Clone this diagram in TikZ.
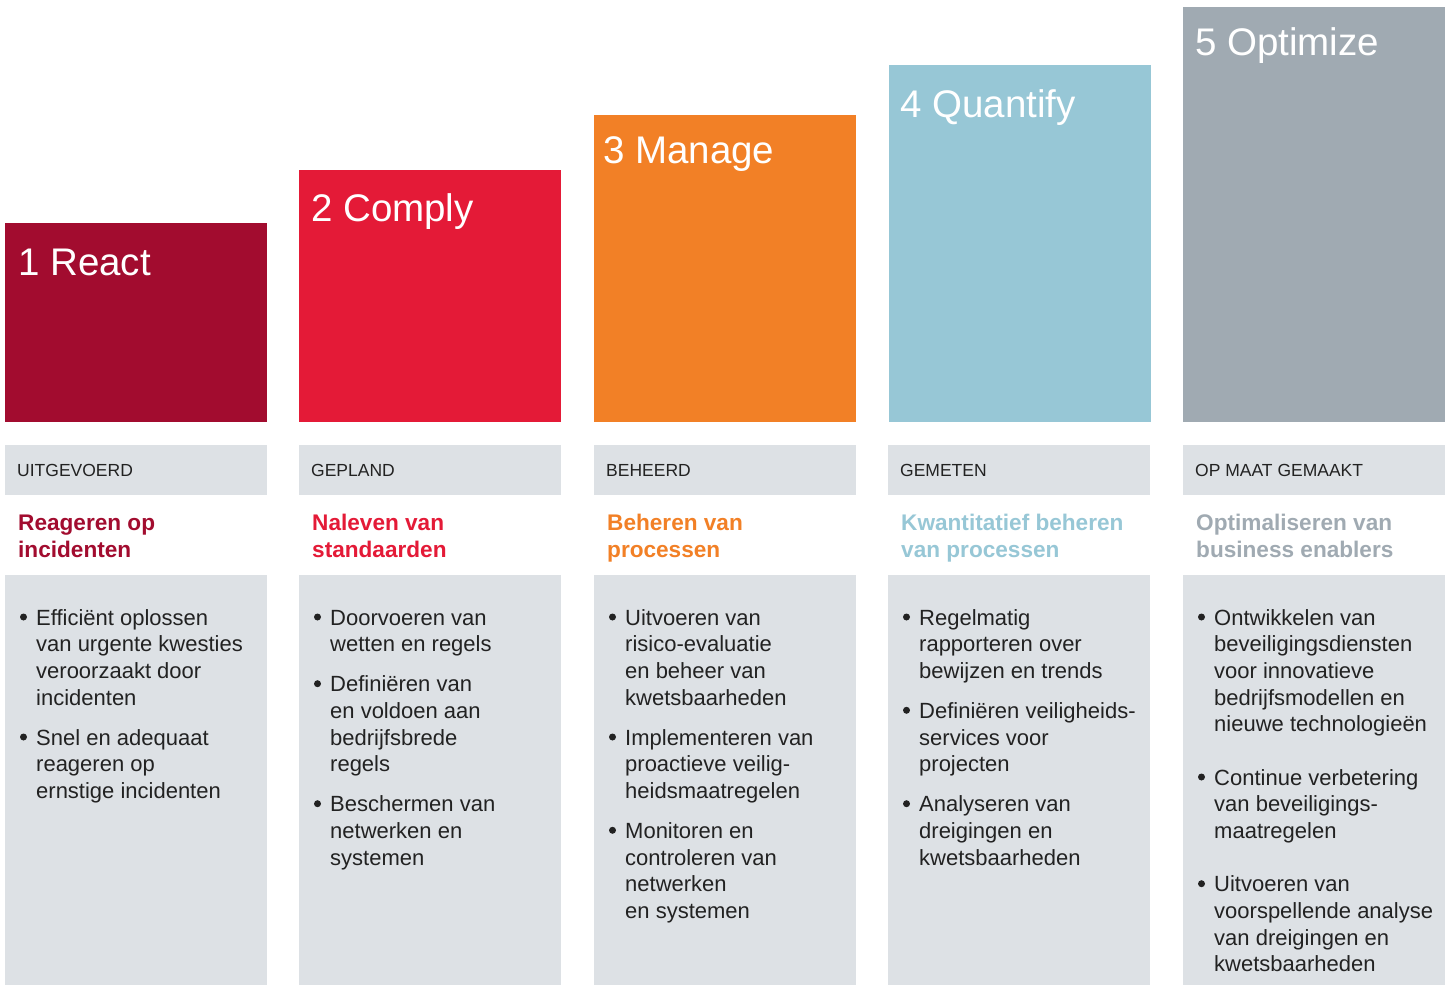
\documentclass[tikz,border=0pt]{standalone}
\usepackage{fontspec}
\setmainfont{Liberation Sans}
\definecolor{cReact}{HTML}{A20C2F}
\definecolor{cComply}{HTML}{E41A37}
\definecolor{cManage}{HTML}{F28026}
\definecolor{cQuant}{HTML}{97C7D6}
\definecolor{cOpt}{HTML}{A0AAB2}
\definecolor{cGrey}{HTML}{DDE1E5}
\definecolor{cText}{HTML}{222222}
\newcommand\bodyln[4]{\node[body] (#1) at (#2,#3) {#4};}
\newcommand\bulletat[3]{\node[bul] (#1) at ({#2+6.5},{#3-8}) {};}
\begin{document}
\begin{tikzpicture}[x=1pt,y=-1pt,
  title/.style={anchor=base west, inner sep=0pt, text=white, font=\fontsize{38.5}{44}\selectfont},
  lab/.style={anchor=base west, inner sep=0pt, text=cText, font=\fontsize{17.5}{20}\selectfont},
  head/.style={anchor=base west, inner sep=0pt, font=\fontsize{22.6}{27}\selectfont\bfseries},
  body/.style={anchor=base west, inner sep=0pt, text=cText, font=\fontsize{22}{26.7}\selectfont},
  bul/.style={circle, fill=cText, inner sep=0pt, minimum size=7pt}]
\useasboundingbox (0,0) rectangle (1452,985);
\fill[white] (0,0) rectangle (1452,985);

% coloured blocks
\fill[cReact] (5,223) rectangle (267,422);
\fill[cComply] (299,170) rectangle (561,422);
\fill[cManage] (594,115) rectangle (856,422);
\fill[cQuant] (889,65) rectangle (1151,422);
\fill[cOpt] (1183,7) rectangle (1445,422);

\node[title] (t1) at (18,275) {1 React};
\node[title] (t2) at (311,221) {2 Comply};
\node[title] (t3) at (603,163) {3 Manage};
\node[title] (t4) at (900,117) {4 Quantify};
\node[title] (t5) at (1195,55) {5 Optimize};

% grey label bars and body panels
\foreach \x in {5,299,594,888,1183}{
  \fill[cGrey] (\x,445) rectangle ++(262,50);
  \fill[cGrey] (\x,575) rectangle ++(262,410);
}

\node[lab] (l1) at (17,476) {UITGEVOERD};
\node[lab] (l2) at (311,476) {GEPLAND};
\node[lab] (l3) at (606,476) {BEHEERD};
\node[lab] (l4) at (900,476) {GEMETEN};
\node[lab] (l5) at (1195,476) {OP MAAT GEMAAKT};

\node[head,text=cReact] (h1a) at (18,530) {Reageren op};
\node[head,text=cReact] (h1b) at (18,557) {incidenten};
\node[head,text=cComply] (h2a) at (312,530) {Naleven van};
\node[head,text=cComply] (h2b) at (312,557) {standaarden};
\node[head,text=cManage] (h3a) at (607,530) {Beheren van};
\node[head,text=cManage] (h3b) at (607,557) {processen};
\node[head,text=cQuant] (h4a) at (901,530) {Kwantitatief beheren};
\node[head,text=cQuant] (h4b) at (901,557) {van processen};
\node[head,text=cOpt] (h5a) at (1196,530) {Optimaliseren van};
\node[head,text=cOpt] (h5b) at (1196,557) {business enablers};

% column 1
\bulletat{b11}{17}{625}
\bodyln{c1a}{36}{625}{Efficiënt oplossen}
\bodyln{c1b}{36}{651.7}{van urgente kwesties}
\bodyln{c1c}{36}{678.3}{veroorzaakt door}
\bodyln{c1d}{36}{705}{incidenten}
\bulletat{b12}{17}{745}
\bodyln{c1e}{36}{745}{Snel en adequaat}
\bodyln{c1f}{36}{771.7}{reageren op}
\bodyln{c1g}{36}{798.3}{ernstige incidenten}

% column 2
\bulletat{b21}{311}{625}
\bodyln{c2a}{330}{625}{Doorvoeren van}
\bodyln{c2b}{330}{651.7}{wetten en regels}
\bulletat{b22}{311}{691.7}
\bodyln{c2c}{330}{691.7}{Definiëren van}
\bodyln{c2d}{330}{718.3}{en voldoen aan}
\bodyln{c2e}{330}{745}{bedrijfsbrede}
\bodyln{c2f}{330}{771.7}{regels}
\bulletat{b23}{311}{811.7}
\bodyln{c2g}{330}{811.7}{Beschermen van}
\bodyln{c2h}{330}{838.3}{netwerken en}
\bodyln{c2i}{330}{865}{systemen}

% column 3
\bulletat{b31}{606}{625}
\bodyln{c3a}{625}{625}{Uitvoeren van}
\bodyln{c3b}{625}{651.7}{risico-evaluatie}
\bodyln{c3c}{625}{678.3}{en beheer van}
\bodyln{c3d}{625}{705}{kwetsbaarheden}
\bulletat{b32}{606}{745}
\bodyln{c3e}{625}{745}{Implementeren van}
\bodyln{c3f}{625}{771.7}{proactieve veilig-}
\bodyln{c3g}{625}{798.3}{heidsmaatregelen}
\bulletat{b33}{606}{838.3}
\bodyln{c3h}{625}{838.3}{Monitoren en}
\bodyln{c3i}{625}{865}{controleren van}
\bodyln{c3j}{625}{891.7}{netwerken}
\bodyln{c3k}{625}{918.3}{en systemen}

% column 4
\bulletat{b41}{900}{625}
\bodyln{c4a}{919}{625}{Regelmatig}
\bodyln{c4b}{919}{651.7}{rapporteren over}
\bodyln{c4c}{919}{678.3}{bewijzen en trends}
\bulletat{b42}{900}{718.3}
\bodyln{c4d}{919}{718.3}{Definiëren veiligheids-}
\bodyln{c4e}{919}{745}{services voor}
\bodyln{c4f}{919}{771.7}{projecten}
\bulletat{b43}{900}{811.7}
\bodyln{c4g}{919}{811.7}{Analyseren van}
\bodyln{c4h}{919}{838.3}{dreigingen en}
\bodyln{c4i}{919}{865}{kwetsbaarheden}

% column 5
\bulletat{b51}{1195}{625}
\bodyln{c5a}{1214}{625}{Ontwikkelen van}
\bodyln{c5b}{1214}{651.7}{beveiligingsdiensten}
\bodyln{c5c}{1214}{678.3}{voor innovatieve}
\bodyln{c5d}{1214}{705}{bedrijfsmodellen en}
\bodyln{c5e}{1214}{731.7}{nieuwe technologieën}
\bulletat{b52}{1195}{785}
\bodyln{c5f}{1214}{785}{Continue verbetering}
\bodyln{c5g}{1214}{811.7}{van beveiligings-}
\bodyln{c5h}{1214}{838.3}{maatregelen}
\bulletat{b53}{1195}{891.7}
\bodyln{c5i}{1214}{891.7}{Uitvoeren van}
\bodyln{c5j}{1214}{918.3}{voorspellende analyse}
\bodyln{c5k}{1214}{945}{van dreigingen en}
\bodyln{c5l}{1214}{971.7}{kwetsbaarheden}
\end{tikzpicture}
\end{document}
